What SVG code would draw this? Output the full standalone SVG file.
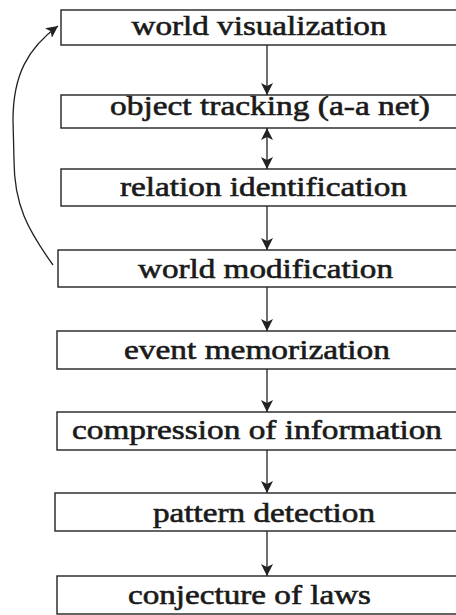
<svg xmlns="http://www.w3.org/2000/svg" width="456" height="615" viewBox="0 0 456 615">
<style>
.box{fill:#fff;stroke:#222;stroke-width:1.4}
.lbl{font-family:"Liberation Serif","Times New Roman",serif;font-size:27px;font-weight:normal;fill:#1a1a1a;stroke:#1a1a1a;stroke-width:0.6;text-anchor:middle}
.con{fill:none;stroke:#222;stroke-width:1.3}
</style>
<defs>
<marker id="ah" viewBox="0 0 12 12" refX="12" refY="6" markerWidth="12" markerHeight="12" markerUnits="userSpaceOnUse" orient="auto-start-reverse">
<path d="M0,0 L12,6 L0,12 L3,6 Z" fill="#222"/>
</marker>
</defs>
<rect width="456" height="615" fill="#fff"/>
<g id="connectors">
<line class="con" x1="267" y1="45" x2="267" y2="95" marker-end="url(#ah)"/>
<line class="con" x1="267" y1="128" x2="267" y2="169" marker-start="url(#ah)" marker-end="url(#ah)"/>
<line class="con" x1="267" y1="206" x2="267" y2="250" marker-end="url(#ah)"/>
<line class="con" x1="267" y1="287" x2="267" y2="331" marker-end="url(#ah)"/>
<line class="con" x1="267" y1="369" x2="267" y2="412" marker-end="url(#ah)"/>
<line class="con" x1="267" y1="450" x2="267" y2="493" marker-end="url(#ah)"/>
<line class="con" x1="267" y1="531" x2="267" y2="576" marker-end="url(#ah)"/>
<path class="con" d="M53,265 C28,230 14,205 14,160 L13,120 C13,75 28,48 58,26" marker-end="url(#ah)"/>
</g>
<g id="n1"><rect class="box" x="61" y="10" width="420" height="35"/><text class="lbl" x="259" y="35" textLength="255" lengthAdjust="spacingAndGlyphs">world visualization</text></g>
<g id="n2"><rect class="box" x="61" y="95" width="420" height="33"/><text class="lbl" x="270" y="115" textLength="320" lengthAdjust="spacingAndGlyphs">object tracking (a-a net)</text></g>
<g id="n3"><rect class="box" x="61" y="169" width="420" height="37"/><text class="lbl" x="263.5" y="196" textLength="287" lengthAdjust="spacingAndGlyphs">relation identification</text></g>
<g id="n4"><rect class="box" x="58" y="250" width="420" height="37"/><text class="lbl" x="265.5" y="278" textLength="255" lengthAdjust="spacingAndGlyphs">world modification</text></g>
<g id="n5"><rect class="box" x="57" y="331" width="420" height="38"/><text class="lbl" x="257" y="359" textLength="266" lengthAdjust="spacingAndGlyphs">event memorization</text></g>
<g id="n6"><rect class="box" x="57" y="412" width="420" height="38"/><text class="lbl" x="257" y="439" textLength="370" lengthAdjust="spacingAndGlyphs">compression of information</text></g>
<g id="n7"><rect class="box" x="55" y="493" width="420" height="38"/><text class="lbl" x="264" y="522" textLength="222" lengthAdjust="spacingAndGlyphs">pattern detection</text></g>
<g id="n8"><rect class="box" x="57" y="576" width="420" height="38"/><text class="lbl" x="249.5" y="604" textLength="243" lengthAdjust="spacingAndGlyphs">conjecture of laws</text></g>
</svg>
